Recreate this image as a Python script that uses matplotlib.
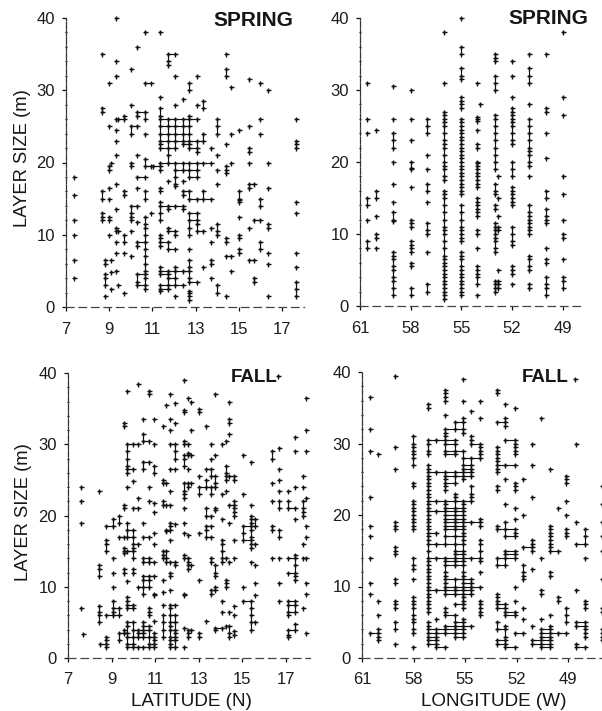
import matplotlib
matplotlib.use("Agg")
import matplotlib.pyplot as plt

plt.rcParams['font.family'] = ['Liberation Sans', 'DejaVu Sans']

W, H = 602, 711
INK = '#111111'

spring_lat_x = [7.35, 8.65, 8.8, 9.0, 9.1, 9.3, 9.4, 9.7, 10.0, 10.3, 10.65, 10.95, 11.05, 11.35, 11.7, 12.05,
                12.4, 12.7, 13.05, 13.35, 13.7, 14.0, 14.4, 14.65, 15.0, 15.45, 15.7, 16.0, 16.35, 17.65]
spring_lat_y = [
    [18, 15.5, 12, 10, 6.5, 4],
    [35, 27.5, 27, 16, 15, 13, 12.5, 12],
    [6.5, 6, 4.5, 4, 3, 1.5],
    [31, 25, 19.5, 19, 16.5, 15, 12.5, 12, 10],
    [20, 6.5, 4.9, 2.5],
    [40, 34, 32, 26, 24.5, 23, 21, 17, 13.5, 11, 10.5, 9, 7.5, 5],
    [26, 10.5, 3],
    [26.5, 26, 16, 15.5, 10, 9, 7.5, 2],
    [33, 28, 25, 24, 20, 19.5, 14, 13, 12.5, 12, 10.5, 7],
    [36, 27, 26.5, 25, 21, 18, 16.5, 14, 11.8, 9, 8.5, 4.5, 3.5, 3],
    [38, 31, 27, 26, 24, 20.5, 19.5, 18, 16, 15, 12.5, 11.5, 11, 10, 9, 8, 7, 6, 5, 4.5, 4, 3, 2.5],
    [31, 19.5, 13],
    [19.5],
    [38, 29, 27.5, 26.5, 26, 25, 24, 23, 22.5, 22, 20, 19.5, 19, 16.5, 16, 14.5, 14, 13, 12, 10, 9.5, 9, 8.5,
     5.5, 5, 4.5, 3, 2.5, 2.2],
    [35, 34, 33.5, 26, 25, 24, 23, 22, 21, 20, 17.5, 14, 13.5, 11, 10.5, 9, 8, 5, 4.5, 4, 3, 2.5],
    [35, 32, 28, 26, 25, 24, 23, 22, 20, 19, 18, 17, 16.8, 14, 10.5, 10, 8, 5.5, 5, 4, 3, 1.5],
    [28.8, 26, 25, 24, 23, 22.5, 20, 19, 17.5, 16, 15.5, 14, 13.5, 5, 3],
    [31, 30, 26.5, 26, 25, 24, 23, 22.5, 22, 20, 19, 18, 16, 15, 13, 12, 11, 10, 8, 6.5, 5.5, 5, 4, 3.5, 2.2,
     2, 1.5, 1],
    [32, 28, 26, 23, 22, 21.5, 20, 19, 18, 15, 13, 12, 11.5, 10.5, 3.5],
    [28.5, 27.5, 24, 23, 20, 16, 15, 10.5, 5.5],
    [22, 20, 15, 11, 9, 6.5, 6, 4],
    [26, 25, 24, 21, 19, 17, 11.5, 10.5, 10, 3, 2],
    [35, 33, 32, 22.5, 19.5, 19, 18.5, 9.5, 9, 7, 1.5],
    [30.5, 24, 20, 7, 5],
    [24.5, 16, 15, 14.8, 14.5, 12.5, 10, 9.5, 8, 7.5],
    [31.5, 25, 22, 21.5, 20, 17, 16.5, 11, 6.5],
    [17, 12, 6.5, 4, 3.5],
    [31, 26, 24, 15, 14, 12, 9, 8],
    [30, 20, 16.5, 11.5, 11, 7.5, 6, 1.5],
    [26, 23, 22.5, 22, 14.5, 13, 7.5, 5.5, 3.5, 2.5, 1.5],
]

spring_lon_x = [60.6, 60.05, 59.05, 58.0, 57.05, 56.05, 55.05, 54.05, 53.9, 53.0, 52.85, 52.0, 51.0, 50.0, 49.0]
spring_lon_y = [
    [31, 26, 24, 15, 14, 12, 9, 8],
    [24.5, 16, 15, 12.5, 10, 9.5, 8],
    [30.5, 26, 24, 23, 22, 20, 17, 14.5, 13, 12, 11.8, 7.5, 7, 6.5, 5.5, 5, 4, 3.5, 2.5, 1.5],
    [30, 26, 23, 20, 19.2, 19, 16.5, 12, 11.5, 11, 9, 8.5, 8, 7.5, 6, 5.5, 2.5, 1.5],
    [26, 25, 24, 21, 19, 17, 16, 14.5, 11.5, 10.5, 10, 7.5, 3, 2],
    [38, 31, 27, 26.5, 26, 25.5, 25, 24, 23, 22.5, 22, 21, 20, 19.5, 19, 18, 17.5, 16, 15.5, 15, 14, 13, 12, 11,
     10.5, 10, 9, 8, 7, 6.5, 6, 5.5, 5, 4.5, 4, 3.5, 3, 2.5, 2, 1.5, 1],
    [40, 36, 35, 33, 32, 31.5, 29, 28.5, 28, 27.5, 26, 25.5, 25, 24.5, 24, 23.5, 23, 22.5, 22, 21.5, 21, 20.5, 20,
     19.5, 19, 18.5, 18, 17.5, 17, 16.5, 16, 15.5, 14, 13, 12, 11, 10.5, 10, 9.5, 9, 7.5, 7, 6.5, 5.5, 5, 4.5, 4,
     3.5, 3, 2.5, 2, 1.5],
    [31, 26.2, 26, 25.7, 24.5, 22.5, 22, 20, 19.8, 19.5, 19, 18.5, 18, 17.5, 17, 16.5, 15, 14.5, 14, 13.5, 13, 12.5,
     10.5, 10, 8, 5.5, 5, 4.5, 4, 3, 1.5],
    [28],
    [35, 34.5, 34, 32, 31, 30, 26.5, 26, 25, 24, 23, 22, 21, 20, 19, 17, 16, 15.5, 14, 13.5, 11.5, 11, 10.5, 10, 9.5,
     9, 8, 7.5, 3.5, 3, 2.5, 2],
    [18, 15, 12.5, 11, 10.5, 5, 3.5, 3, 2.5],
    [34, 32, 29, 27.5, 27, 26.5, 26, 25.5, 25, 24, 23, 22.5, 20, 19, 18, 16.5, 16, 15.5, 15, 14.5, 14, 11, 10, 9, 8.5,
     5.5, 5, 4.5, 3],
    [35, 33, 32, 31, 28, 26, 25, 24, 23, 22, 21.5, 21, 20, 19.5, 18, 14, 13, 12.5, 12, 11.5, 11, 10.5, 10, 7, 6.5,
     5.5, 5, 3, 2.5],
    [35, 27.5, 27, 24, 20.5, 16, 15, 13.5, 12.5, 12, 11.5, 8, 6.5, 6, 4, 3, 2.5, 1.5],
    [38, 29, 26.5, 18, 15.5, 12, 10, 9.5, 6.5, 4, 3.5, 2.5],
]

fall_lat_x = [7.6, 7.7, 8.4, 8.45, 8.75, 9.05, 9.35, 9.55, 9.7, 10.0, 10.2, 10.45, 10.7, 10.95, 11.35, 11.5, 11.7,
              11.9, 12.3, 12.5, 12.65, 13.0, 13.35, 13.55, 13.75, 14.05, 14.25, 14.4, 14.6, 15.05, 15.4, 15.6,
              16.35, 16.65, 16.7, 17.1, 17.4, 17.8, 17.9]
fall_lat_y = [
    [24, 22, 19, 7],
    [3.4],
    [23.5, 13, 12.5, 11.5, 7.3, 6.5, 6, 5],
    [2],
    [18.5, 16.5, 16, 15, 6, 3, 2.5, 2, 1.5],
    [19.5, 18.5, 14, 12, 10, 8, 7, 6.5, 6],
    [20, 19, 17, 7, 6, 3.5, 2.5],
    [33, 32.5, 21.5, 21, 17, 15.5, 15, 14.8, 12.5, 12, 4, 3.5],
    [37.5, 30, 29, 28, 27, 26.5, 26, 24, 19, 18, 17, 15, 10.8, 8.5, 8, 7.5, 7, 5, 4.5, 3.5, 3, 2, 1.5],
    [30, 26.5, 24.8, 21, 18, 17, 16, 15.5, 15, 14, 12.5, 12, 7.5, 7, 5, 4, 3, 2, 1.5],
    [38.5, 30, 22.5, 21, 16, 10, 4, 3.5, 3, 1.5],
    [33.5, 31.5, 30.5, 27.5, 26.5, 19, 17, 14, 13.5, 11.5, 11, 10, 9, 5, 4.5, 4, 3.5, 3, 1.5],
    [37.5, 37, 30.5, 27.5, 24, 22, 17, 14, 13.5, 11.5, 11, 10, 7, 6.5, 6, 4.5, 4, 3, 2, 1.5],
    [33.5, 30, 27, 26, 21.8, 20.5, 17.5, 16, 13.5, 11.5, 9, 8.8, 5.2, 3.5, 3, 2.5, 2, 1.5],
    [32.5, 25, 24.5, 22, 21.5, 15, 14.5, 14, 11, 9.3, 7.5, 6, 5, 4, 3],
    [35.5, 24.5, 21.5, 18, 17.8, 15, 14, 13.5],
    [37, 33.5, 32, 30, 26.5, 23.5, 21.5, 19, 18.5, 18, 16.5, 13.5, 12, 11.5, 9.5, 7.5, 7, 6, 5, 4.5, 4, 3, 2.5, 2, 1.5],
    [35.8, 33, 30, 29, 28, 26.5, 18.8, 13.5, 13, 7.5, 6, 5, 4, 3.5, 3, 2.5, 1.5],
    [39, 34.8, 34.5, 30.5, 30, 28.5, 28, 27, 24.5, 23.5, 23, 22.5, 21, 19, 17.5, 14.5, 14, 9, 8.8, 4.2, 1.5],
    [36.5, 30, 28.8, 28.5, 26.5, 24.5, 24, 17.3, 14, 13.5, 13, 12.5, 4, 3.5, 3],
    [36, 32, 28.5, 24.5, 13, 4],
    [35, 34.5, 25.5, 24, 23, 17.5, 11, 3.5, 3],
    [32.5, 26.5, 25, 24, 21, 20, 18.5, 18, 17, 5.2],
    [30, 28, 26.5, 25.5, 24, 23, 20, 18.5, 17, 14, 13.5, 9.5, 9],
    [37, 28.5, 25.5, 24.5, 24, 21, 20.8, 13, 12, 11.5, 10, 9.5, 4.2, 4],
    [30, 23, 19.5, 16.5, 16, 15, 14, 13.5, 8, 6.5, 4.2],
    [30.5, 27, 26, 25.5, 25, 23.5, 14, 11, 10.5, 10, 4.5],
    [36, 33.5, 33, 31.5, 25.5, 21.5, 19, 13.5, 6.5, 4.5, 3.5, 3],
    [25.5, 25, 22, 21.5, 21, 20.5, 20, 16.5, 14, 7.3, 6, 3.8, 3.2],
    [28.5, 23, 18.5, 17.5, 16.5, 10, 8],
    [27.5, 21.5, 20, 19.5, 19, 18.5, 18, 17, 16.5, 16, 15.5, 13.5, 8, 7, 6, 5, 4],
    [19.5, 18.5, 16, 13, 10.5, 8.8, 5],
    [29, 28, 24.5, 22, 18.5, 18, 14],
    [39.6],
    [29.5, 26.5, 25, 23.5, 22, 21, 18, 17, 14, 10.5, 8],
    [23.5, 22, 21, 14, 12, 8, 7.5, 6.5, 6, 4, 3.2, 3],
    [31, 29, 24, 21, 19.5, 14.5, 14, 13, 12, 11.5, 11, 8, 7.5, 6.5, 4.8, 4],
    [25.5, 24, 22, 21, 20.5, 20, 16, 14, 7],
    [36.5, 32, 29, 22.5, 18.5, 17, 14, 10.5, 9, 3.5],
]

fall_lon_x = [60.55, 60.05, 59.05, 58.05, 57.15, 56.7, 56.15, 55.6, 55.1, 54.65, 54.1, 53.15, 52.65, 52.1, 51.6, 51.1,
              50.6, 50.05, 49.6, 49.1, 48.6, 48.55, 48.0, 47.05]
fall_lon_y = [
    [36.5, 32, 29, 22.5, 18.5, 17, 14, 10.5, 9, 3.5],
    [28.5, 8, 6, 4, 3.5, 3, 2.5],
    [39.5, 29.5, 26.5, 19, 18.5, 18, 15.5, 15, 14.5, 11, 10.5, 8, 7.5, 7, 5, 4, 2],
    [31, 30, 29.5, 29, 28.5, 28, 27, 24.5, 24, 22, 21.5, 21, 20.5, 20, 19.5, 19, 18.5, 18, 14, 13, 12.5, 11, 8.5, 8,
     7.5, 7, 6, 5.5, 5, 4, 3.5, 1.5],
    [35.5, 35, 30.5, 30, 29, 28.5, 27, 26.5, 26, 25.5, 25, 24.5, 24, 23.5, 23, 22.5, 22, 21.5, 21, 20.5, 20, 19.5, 19,
     18.5, 18, 17.5, 17, 16.5, 16, 15, 14, 13.5, 13, 12.5, 12, 11.5, 11, 10.5, 10, 9.5, 9, 8.5, 8, 7.5, 7, 6.5, 5, 4.5,
     4, 3.5, 3, 2.5, 2],
    [30.5, 26, 22, 20.5, 17.5, 16, 14, 9.5, 5.5, 4, 3.5, 3, 2.5, 2, 1.5],
    [37.5, 37, 36.5, 36, 34, 32, 31.5, 31, 30.5, 30, 29, 28.5, 26, 25.5, 25, 24.5, 24, 23.5, 22, 21.5, 21, 20.5, 20,
     19.5, 19, 18.5, 18, 17, 16, 14, 13.5, 13, 12, 11.5, 11, 10.5, 10, 9.5, 9, 7, 6.5, 6, 4.5, 4, 3.5, 1.5],
    [33, 32, 30.5, 30, 29, 28.5, 26, 25.5, 24.5, 23, 22.5, 22, 21, 20.5, 20, 19.5, 19, 18.5, 18, 17, 16, 15, 14.5, 14,
     13.5, 13, 11, 10, 9.5, 9, 7.5, 6, 5, 4.5, 4, 3.5, 3],
    [39, 36, 33.5, 33, 32, 31.5, 29, 28, 27, 26.5, 26, 25.5, 25, 22, 21.5, 21, 20.5, 20, 19.5, 19, 18.5, 18, 17.5, 17,
     16.5, 16, 15, 14.5, 14, 13.5, 13, 12, 11.5, 11, 10.5, 10, 9.5, 9, 8.5, 8, 7.5, 7, 5.5, 5, 4.5, 4, 3.5, 3],
    [34.5, 31, 30.5, 30, 28, 27, 26.5, 26, 25.5, 24, 23, 22.5, 22, 19, 14, 11, 10.5, 10, 9.5, 9, 4.5],
    [36, 33.5, 30, 29.5, 29, 28.5, 28, 19.5, 19, 18.5, 16.5, 16, 15, 14, 13.5, 12, 10, 8, 7.5, 7, 6.5, 6],
    [37.5, 37, 33, 29.5, 29, 28.5, 28, 27.5, 27, 26.5, 26, 24, 23.5, 18.5, 18, 14, 13, 9, 8.5, 8, 7.5, 7, 5, 4, 2.5, 2],
    [35.5, 33.5, 33, 32.5, 30.5, 27, 25, 21.5, 19, 18, 17, 15, 14.5, 14, 13, 7.5, 7, 6.5, 6, 4.5, 4, 3, 2.5, 2, 1.5],
    [35, 30.5, 30, 29.5, 29, 28.5, 27, 24.5, 24, 23.5, 21, 19.5, 18, 17.5, 17, 15, 14.5, 14, 10, 8, 6.5, 6, 3.5, 1.5],
    [25, 20, 15.5, 13, 12, 11.5, 11, 7, 5.5, 3.5],
    [30, 27, 22.5, 16.5, 16, 15.5, 15, 12.5, 4.5, 2.5, 2],
    [33.5, 14, 9.5, 9, 5.5, 4, 3.5, 3, 2.5, 2, 1.5],
    [26.5, 18.5, 18, 17.5, 17, 16.5, 16, 15.5, 15, 12, 11.5, 6, 4.5, 4, 3.5, 3, 2.5, 2, 1.5],
    [21, 15, 8.5, 8, 3.5],
    [25.5, 25, 24.5, 22, 20, 18, 17.5, 17, 7, 6, 5, 3.5],
    [39],
    [30, 19, 16, 9.5, 5, 4.5, 2, 1.5],
    [18, 17, 16, 14, 8, 7.5, 7, 5, 4.5, 4, 3.5, 3, 1.5],
    [24, 21.5, 19, 17, 15, 11, 7, 6.5, 4, 3.5, 3, 2.5],
]

lat_ticks = [7, 9, 11, 13, 15, 17]
lon_ticks = [61, 58, 55, 52, 49]
size_ticks = [0, 10, 20, 30, 40]

fig = plt.figure(figsize=(W / 100, H / 100), dpi=100, facecolor='white')


def panel(x0, x1, ytop, ybot, xlim, xs, ys, xticks, xgap, xpad):
    ax = fig.add_axes([x0 / W, 1 - ybot / H, (x1 - x0) / W, (ybot - ytop) / H])
    ax.set_xlim(*xlim)
    ax.set_ylim(0, 40)
    px = [x for x, col in zip(xs, ys) for _ in col]
    py = [y for col in ys for y in col]
    # the print joins neighbouring marks with hairlines
    for x, col in zip(xs, ys):
        c = sorted(col)
        for lo, hi in zip(c, c[1:]):
            if hi - lo <= 1.0:
                ax.plot([x, x], [lo, hi], color=INK, lw=0.8, zorder=2, clip_on=False)
    for i in range(len(xs) - 1):
        if abs(xs[i + 1] - xs[i]) <= xgap:
            for y in set(ys[i]) & set(ys[i + 1]):
                ax.plot([xs[i], xs[i + 1]], [y, y], color=INK, lw=0.8, zorder=2, clip_on=False)
    ax.plot(px, py, ls='none', marker='+', ms=3.6, mew=1.0, color=INK, clip_on=False, zorder=3)
    ax.plot(px, py, ls='none', marker='D', ms=1.7, mew=0, color=INK, clip_on=False, zorder=3)
    for side in ('top', 'right'):
        ax.spines[side].set_visible(False)
    ax.spines['left'].set_linewidth(0.9)
    ax.spines['left'].set_linestyle((0, (5, 1.2)))
    ax.spines['left'].set_color('#333333')
    ax.spines['bottom'].set_linewidth(0.9)
    ax.spines['bottom'].set_linestyle((0, (6, 4)))
    ax.spines['bottom'].set_color('#444444')
    ax.set_xticks(xticks)
    ax.set_yticks(size_ticks)
    ax.set_yticks(range(0, 41, 2), minor=True)
    ax.tick_params(axis='both', which='major', labelsize=12, length=3, width=0.9,
                   direction='out', color=INK, labelcolor='#1c1c1c')
    ax.tick_params(axis='y', which='minor', length=1.5, width=0.8, color=INK, direction='inout')
    ax.tick_params(axis='x', pad=xpad)
    ax.tick_params(axis='y', pad=5)
    ax.patch.set_alpha(0)
    return ax


a1 = panel(66, 304, 18, 307, (7, 7 + 238 / 21.6), spring_lat_x, spring_lat_y, lat_ticks, 0.4, 8)
a2 = panel(360, 582, 18, 306, (61, 61 - 222 / 16.9), spring_lon_x, spring_lon_y, lon_ticks, 0.2, 8)
a3 = panel(68, 310, 373, 658, (7, 7 + 242 / 21.8), fall_lat_x, fall_lat_y, lat_ticks, 0.4, 7)
a4 = panel(362, 602, 372, 658, (61, 61 - 240 / 17.17), fall_lon_x, fall_lon_y, lon_ticks, 0.6, 7)


def ftext(x, y, s, **kw):
    fig.text(x / W, 1 - y / H, s, color='#161616', va='center', **kw)


ftext(253, 21, 'SPRING', ha='center', fontsize=15, fontweight='bold')
ftext(548, 19, 'SPRING', ha='center', fontsize=15, fontweight='bold')
ftext(254, 378, 'FALL', ha='center', fontsize=13.5, fontweight='bold')
ftext(545, 378, 'FALL', ha='center', fontsize=13.5, fontweight='bold')
ftext(23, 158, 'LAYER SIZE (m)', ha='center', rotation=90, fontsize=13.2)
ftext(24, 512, 'LAYER SIZE (m)', ha='center', rotation=90, fontsize=13.2)
ftext(191, 702, 'LATITUDE (N)', ha='center', fontsize=13.6)
ftext(494, 702, 'LONGITUDE (W)', ha='center', fontsize=13.6)

fig.savefig('out.png', dpi=100, facecolor='white')
